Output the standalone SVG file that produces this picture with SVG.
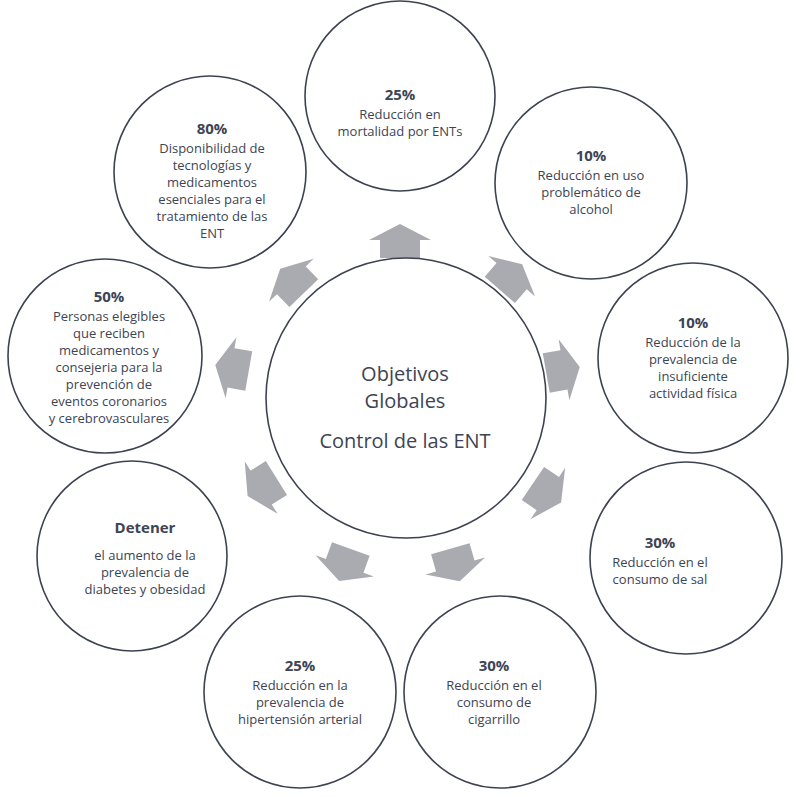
<svg xmlns="http://www.w3.org/2000/svg" width="800" height="797" viewBox="0 0 800 797">
<style>
.c{fill:#fff;stroke:#3c4250;stroke-width:1.6}
text{font-family:"Open Sans","Liberation Sans",sans-serif;fill:#3d4454;text-anchor:middle;font-size:13px}
.b{font-weight:bold;font-size:15px}
.m{font-size:20px}
.a{fill:#a9abb0}
</style>
<defs><polygon id="ar" points="-20,17 20,17 20,-1 31,-1 0,-17 -31,-1 -20,-1"/></defs>
<rect width="800" height="797" fill="#fff"/>
<g id="connectors">
<use href="#ar" class="a" transform="translate(400,241) rotate(0)"/>
<use href="#ar" class="a" transform="translate(511,277) rotate(41)"/>
<use href="#ar" class="a" transform="translate(563,370) rotate(80)"/>
<use href="#ar" class="a" transform="translate(547,493) rotate(124)"/>
<use href="#ar" class="a" transform="translate(455,565) rotate(164)"/>
<use href="#ar" class="a" transform="translate(345,565) rotate(-160)"/>
<use href="#ar" class="a" transform="translate(262,487) rotate(-122)"/>
<use href="#ar" class="a" transform="translate(232,368) rotate(-80)"/>
<use href="#ar" class="a" transform="translate(292,281) rotate(-44)"/>
</g>
<g id="center"><circle class="c" cx="406" cy="398" r="140"/>
<text class="m" x="405" y="381">Objetivos</text><text class="m" x="405" y="408">Globales</text><text class="m" x="405" y="448">Control de las ENT</text></g>
<g id="n1"><circle class="c" cx="400" cy="96" r="95"/>
<text class="b" x="400" y="100">25%</text><text x="400" y="119">Reducción en</text><text x="400" y="136">mortalidad por ENTs</text></g>
<g id="n2"><circle class="c" cx="591" cy="183" r="96"/>
<text class="b" x="591" y="161">10%</text><text x="591" y="180">Reducción en uso</text><text x="591" y="197">problemático de</text><text x="591" y="214">alcohol</text></g>
<g id="n3"><circle class="c" cx="693" cy="358" r="95"/>
<text class="b" x="693" y="328">10%</text><text x="693" y="347">Reducción de la</text><text x="693" y="364">prevalencia de</text><text x="693" y="381">insuficiente</text><text x="693" y="398">actividad física</text></g>
<g id="n4"><circle class="c" cx="686" cy="558" r="96"/>
<text class="b" x="660" y="548">30%</text><text x="660" y="567">Reducción en el</text><text x="660" y="584">consumo de sal</text></g>
<g id="n5"><circle class="c" cx="500" cy="692" r="96"/>
<text class="b" x="494" y="671">30%</text><text x="494" y="690">Reducción en el</text><text x="494" y="707">consumo de</text><text x="494" y="724">cigarrillo</text></g>
<g id="n6"><circle class="c" cx="300" cy="692" r="96"/>
<text class="b" x="300" y="671">25%</text><text x="300" y="690">Reducción en la</text><text x="300" y="707">prevalencia de</text><text x="300" y="724">hipertensión arterial</text></g>
<g id="n7"><circle class="c" cx="132" cy="556" r="95"/>
<text class="b" x="145" y="533">Detener</text><text x="145" y="560">el aumento de la</text><text x="145" y="577">prevalencia de</text><text x="145" y="594">diabetes y obesidad</text></g>
<g id="n8"><circle class="c" cx="105" cy="356" r="97"/>
<text class="b" x="109" y="302">50%</text><text x="109" y="321">Personas elegibles</text><text x="109" y="338">que reciben</text><text x="109" y="355">medicamentos y</text><text x="109" y="372">consejeria para la</text><text x="109" y="389">prevención de</text><text x="109" y="406">eventos coronarios</text><text x="109" y="423">y cerebrovasculares</text></g>
<g id="n9"><circle class="c" cx="210" cy="172" r="96"/>
<text class="b" x="212" y="134">80%</text><text x="212" y="153">Disponibilidad de</text><text x="212" y="170">tecnologías y</text><text x="212" y="187">medicamentos</text><text x="212" y="204">esenciales para el</text><text x="212" y="221">tratamiento de las</text><text x="212" y="238">ENT</text></g>
</svg>
